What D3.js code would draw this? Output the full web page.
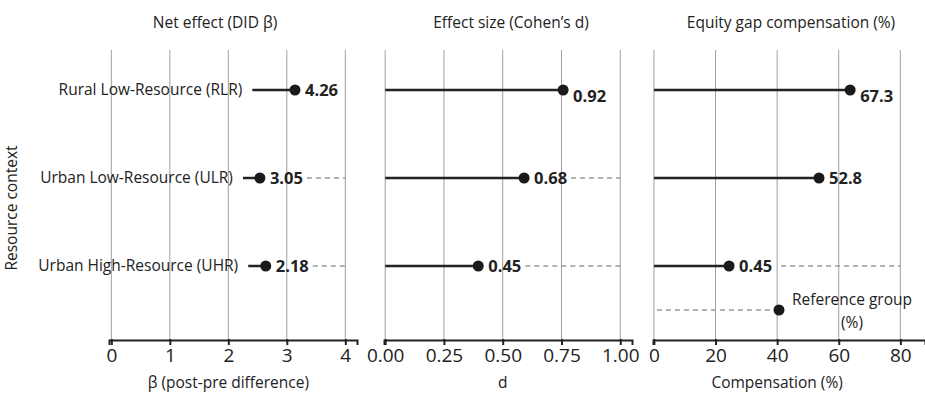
<!DOCTYPE html>
<html>
<head>
<meta charset="utf-8">
<script src="https://cdn.jsdelivr.net/npm/d3@7"></script>
<style>
  body { margin: 0; background: #fff; }
  svg text { font-family: "Open Sans", "Noto Sans", sans-serif; fill: #222; }
</style>
</head>
<body>
<div id="chart"></div>
<script>
// categories (rows, top to bottom)
var categories = ["Rural Low-Resource (RLR)", "Urban Low-Resource (ULR)", "Urban High-Resource (UHR)"];

// panel 1: net effect, lollipop starts / dot positions / printed labels
var betaStart = [2.41, 2.25, 2.34];
var betaValue = [3.14, 2.54, 2.64];
var betaLabel = ["4.26", "3.05", "2.18"];
var betaTicks = [0, 1, 2, 3, 4];

// panel 2: Cohen's d
var dValue = [0.757, 0.591, 0.396];
var dLabel = ["0.92", "0.68", "0.45"];
var dTicks = [0, 0.25, 0.5, 0.75, 1];

// panel 3: equity gap compensation
var compValue = [63.7, 53.6, 24.4];
var compLabel = ["67.3", "52.8", "0.45"];
var compTicks = [0, 20, 40, 60, 80];
var refValue = 40.6;
var refLabel = ["Reference group", "(%)"];

// which rows get the grey dashed guide after the label
var dashRows1 = [false, true, true];
var dashRows2 = [false, true, true];
var dashRows3 = [false, false, true];

var W = 925, H = 393;
var svg = d3.select("#chart").append("svg").attr("width", W).attr("height", H);

var gridTop = 50, axisY = 340;
var y = d3.scaleLinear().domain([0, 2]).range([90, 266]);
var fs = 15.5;

var panels = [
  { title: "Net effect (DID β)", titleX: 215, axisTitle: "β (post-pre difference)",
    x: d3.scaleLinear().domain([-0.04, 4.2]).range([109, 357]),
    ticks: betaTicks, fmt: d3.format("d"), start: betaStart, values: betaValue,
    labels: betaLabel, dash: dashRows1, end: 4, labelDy: [0, 0, 0], gap: 4 },
  { title: "Effect size (Cohen’s d)", titleX: 511, axisTitle: "d",
    x: d3.scaleLinear().domain([-0.005, 1.05]).range([384, 632]),
    ticks: dTicks, fmt: d3.format(".2f"), start: [0, 0, 0], values: dValue,
    labels: dLabel, dash: dashRows2, end: 1, labelDy: [6, 0, 0], gap: 4 },
  { title: "Equity gap compensation (%)", titleX: 791, axisTitle: "Compensation (%)",
    x: d3.scaleLinear().domain([-0.3, 88]).range([653, 925]),
    ticks: compTicks, fmt: d3.format("d"), start: [0, 0, 0], values: compValue,
    labels: compLabel, dash: dashRows3, end: 80, labelDy: [6, 0, 0], gap: 9 }
];

panels.forEach(function(p, pi) {
  var g = svg.append("g");
  var x = p.x;

  // grid
  g.selectAll(".grid").data(p.ticks).enter().append("line")
    .attr("x1", function(d) { return x(d); })
    .attr("x2", function(d) { return x(d); })
    .attr("y1", gridTop).attr("y2", axisY)
    .attr("stroke", "#a0a0a0").attr("stroke-width", 1);

  // axis
  var ax = g.append("g").attr("transform", "translate(0," + axisY + ")")
    .call(d3.axisBottom(x).tickValues(p.ticks).tickFormat(p.fmt).tickSizeOuter(0).tickSize(5));
  ax.select(".domain").attr("stroke", "#222").attr("stroke-width", 2);
  ax.selectAll(".tick line").attr("stroke", "#222").attr("stroke-width", 2).attr("y1", -1);
  ax.selectAll(".tick text").attr("font-size", 19).attr("dy", "0.72em").attr("y", 8)
    .attr("font-family", "'Open Sans', sans-serif").attr("fill", "#222");

  // titles
  g.append("text").attr("x", p.titleX).attr("y", 28).attr("text-anchor", "middle")
    .attr("font-size", fs).text(p.title);
  g.append("text").attr("x", (x(p.ticks[0]) + x(p.end)) / 2).attr("y", 388).attr("text-anchor", "middle")
    .attr("font-size", fs).text(p.axisTitle);

  var rows = categories.map(function(c, i) { return i; });

  // stems
  g.selectAll(".stem").data(rows).enter().append("line")
    .attr("x1", function(i) { return x(p.start[i]); })
    .attr("x2", function(i) { return x(p.values[i]); })
    .attr("y1", function(i) { return y(i); })
    .attr("y2", function(i) { return y(i); })
    .attr("stroke", "#222").attr("stroke-width", 2.5);

  // dots
  g.selectAll(".dot").data(rows).enter().append("circle")
    .attr("cx", function(i) { return x(p.values[i]); })
    .attr("cy", function(i) { return y(i); })
    .attr("r", 5.5).attr("fill", "#1a1a1a");

  // value labels
  var lbl = g.selectAll(".val").data(rows).enter().append("text")
    .attr("x", function(i) { return x(p.values[i]) + 10; })
    .attr("y", function(i) { return y(i) + p.labelDy[i]; })
    .attr("dy", "0.35em").attr("font-size", 16.5).attr("font-weight", "bold")
    .text(function(i) { return p.labels[i]; });

  // dashed guides after labels
  lbl.each(function(i) {
    if (!p.dash[i]) return;
    var x0 = x(p.values[i]) + 10 + this.getComputedTextLength() + p.gap;
    g.append("line").attr("x1", x0).attr("x2", x(p.end))
      .attr("y1", y(i)).attr("y2", y(i))
      .attr("stroke", "#999").attr("stroke-width", 1.5).attr("stroke-dasharray", "5,4");
  });

  // category labels only in first panel, right aligned before stem start
  if (pi === 0) {
    g.selectAll(".cat").data(rows).enter().append("text")
      .attr("x", function(i) { return x(p.start[i]) - 10; })
      .attr("y", function(i) { return y(i); })
      .attr("dy", "0.35em").attr("text-anchor", "end").attr("font-size", fs)
      .text(function(i) { return categories[i]; });
  }

  // reference group in third panel
  if (pi === 2) {
    var ry = y(2.5);
    g.append("line").attr("x1", x(0) + 3).attr("x2", x(refValue) - 6)
      .attr("y1", ry).attr("y2", ry)
      .attr("stroke", "#999").attr("stroke-width", 1.5).attr("stroke-dasharray", "5,4");
    g.append("circle").attr("cx", x(refValue)).attr("cy", ry).attr("r", 5.5).attr("fill", "#1a1a1a");
    g.selectAll(".ref").data(refLabel).enter().append("text")
      .attr("x", x(refValue) + 73).attr("y", function(d, i) { return ry - 10 + i * 23; })
      .attr("dy", "0.35em").attr("text-anchor", "middle").attr("font-size", fs)
      .text(function(d) { return d; });
  }
});

// y axis title
svg.append("text").attr("transform", "translate(17,208) rotate(-90)")
  .attr("text-anchor", "middle").attr("font-size", fs).text("Resource context");
</script>
</body>
</html>
